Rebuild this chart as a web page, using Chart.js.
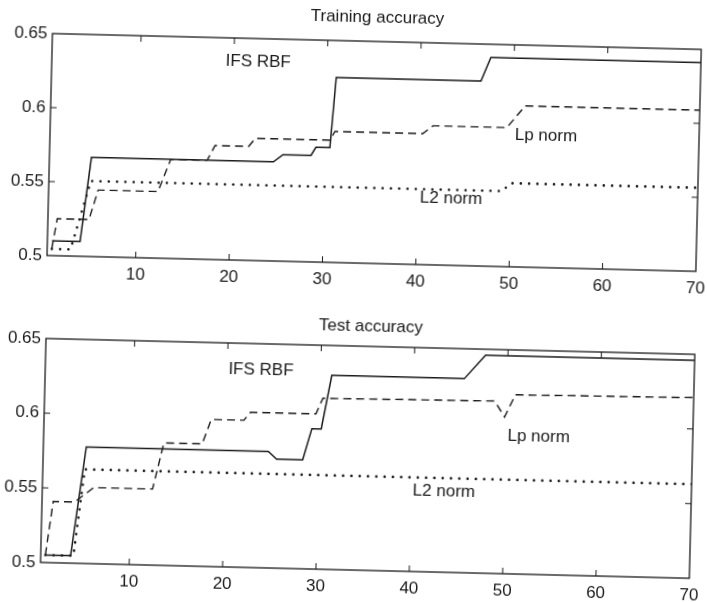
<!DOCTYPE html>
<html>
<head>
<meta charset="utf-8">
<script src="https://cdn.jsdelivr.net/npm/chart.js@4.4.1/dist/chart.umd.min.js"></script>
<style>
  html, body { margin: 0; padding: 0; background: #fff; }
  /* the scanned page sits a little crooked, so the sheet is turned to match */
  #sheet { position: relative; width: 707px; height: 602px; transform: rotate(1.4deg); transform-origin: 50% 50%; }
  #sheet canvas { position: absolute; left: 0; }
  #trainChart { top: 0; }
  #testChart { top: 300px; }
</style>
</head>
<body>
<div id="sheet">
  <canvas id="trainChart" width="707" height="300"></canvas>
  <canvas id="testChart" width="707" height="302"></canvas>
</div>
<script>
const xTicks = [10, 20, 30, 40, 50, 60, 70];
const yTicks = [0.5, 0.55, 0.6, 0.65];

// Training accuracy
const trainIfsX = [1, 4, 5, 24.5, 25.5, 28.5, 29, 30.5, 31, 46.5, 47.5, 70];
const trainIfsY = [0.510, 0.510, 0.567, 0.567, 0.572, 0.572, 0.5775, 0.5775, 0.625, 0.625, 0.641, 0.641];
const trainLpX = [1, 1.5, 4.9, 5.8, 12.2, 13.5, 17.4, 18.2, 21.8, 22.5, 30.5, 31, 40.4, 41.5, 49.4, 51.3, 70];
const trainLpY = [0.505, 0.525, 0.525, 0.545, 0.545, 0.567, 0.567, 0.577, 0.577, 0.5826, 0.5826, 0.5885, 0.5885, 0.594, 0.594, 0.609, 0.609];
const trainL2X = [1, 3, 5, 49, 50, 70];
const trainL2Y = [0.5045, 0.5045, 0.551, 0.551, 0.5565, 0.5565];

// Test accuracy
const testIfsX = [1, 3.7, 5.1, 24.6, 25.5, 28.3, 29.2, 30.2, 31.2, 45.4, 47.6, 70];
const testIfsY = [0.505, 0.505, 0.578, 0.578, 0.573, 0.573, 0.594, 0.594, 0.63, 0.63, 0.646, 0.646];
const testLpX = [1, 1.7, 4, 6, 12.3, 13.4, 17.5, 18.4, 21.9, 22.6, 29.6, 30.3, 48.7, 49.8, 50.9, 70];
const testLpY = [0.505, 0.541, 0.541, 0.551, 0.551, 0.582, 0.582, 0.5985, 0.5985, 0.604, 0.604, 0.6145, 0.6155, 0.605, 0.62, 0.621];
const testL2X = [1, 4, 5, 70];
const testL2Y = [0.505, 0.505, 0.563, 0.563];

// curve labels, placed in data units
const trainNotes = [
    { text: 'IFS RBF', x: 22.6, y: 0.634 },
    { text: 'Lp norm', x: 53.6, y: 0.589 },
    { text: 'L2 norm', x: 43.6, y: 0.545 }
];
const testNotes = [
    { text: 'IFS RBF', x: 23.6, y: 0.6326 },
    { text: 'Lp norm', x: 53.5, y: 0.5925 },
    { text: 'L2 norm', x: 43.5, y: 0.554 }
];

const ink = '#1a1a1a';
const fontFamily = '"Liberation Sans", Arial, Helvetica, sans-serif';

Chart.defaults.font.family = fontFamily;
Chart.defaults.font.size = 17;
Chart.defaults.color = ink;

const pts = (xs, ys) => xs.map((x, i) => ({ x: x, y: ys[i] }));

// box round the axes, inward ticks on all four sides, curve labels
const framePlugin = {
    id: 'frame',
    afterDraw(chart, args, opts) {
        const { ctx, chartArea: a } = chart;
        const x = chart.scales.x, y = chart.scales.y;
        ctx.save();
        ctx.strokeStyle = ink;
        ctx.lineWidth = 1.3;
        ctx.strokeRect(a.left, a.top, a.width, a.height);

        ctx.lineWidth = 1;
        ctx.beginPath();
        xTicks.forEach(v => {
            if (v <= x.min || v >= x.max) return;
            const px = x.getPixelForValue(v);
            ctx.moveTo(px, a.bottom); ctx.lineTo(px, a.bottom - 6);
            ctx.moveTo(px, a.top); ctx.lineTo(px, a.top + 6);
        });
        yTicks.forEach(v => {
            if (v <= y.min || v >= y.max) return;
            const py = y.getPixelForValue(v);
            ctx.moveTo(a.left, py); ctx.lineTo(a.left + 6, py);
            ctx.moveTo(a.right, py); ctx.lineTo(a.right - 6, py);
        });
        ctx.stroke();

        ctx.fillStyle = ink;
        ctx.font = '17px ' + fontFamily;
        ctx.textAlign = 'center';
        ctx.textBaseline = 'middle';
        (opts.notes || []).forEach(n => {
            ctx.fillText(n.text, x.getPixelForValue(n.x), y.getPixelForValue(n.y));
        });
        ctx.restore();
    }
};

function makeChart(id, title, ifs, lp, l2, notes, box) {
    return new Chart(document.getElementById(id), {
        type: 'line',
        data: {
            datasets: [
                { label: 'IFS RBF', data: ifs, borderColor: ink, borderWidth: 1.5 },
                { label: 'Lp norm', data: lp, borderColor: ink, borderWidth: 1.4, borderDash: [8, 5] },
                { label: 'L2 norm', data: l2, borderColor: ink, borderWidth: 2.6, borderDash: [0, 8.3], borderCapStyle: 'round' }
            ]
        },
        options: {
            responsive: false,
            animation: false,
            parsing: false,
            elements: { point: { radius: 0 }, line: { tension: 0, fill: false } },
            layout: { padding: { left: 0, right: box.right, top: 0, bottom: 0 } },
            plugins: {
                legend: { display: false },
                tooltip: { enabled: false },
                title: {
                    display: true,
                    fullSize: false,
                    text: title,
                    color: ink,
                    font: { size: 17, weight: 'normal' },
                    padding: box.titlePad
                },
                frame: { notes: notes }
            },
            scales: {
                x: {
                    type: 'linear',
                    min: 0.5,
                    max: 70,
                    grid: { display: false, drawTicks: false },
                    border: { display: false },
                    ticks: { padding: box.xPad, callback: v => String(v) },
                    afterBuildTicks: s => { s.ticks = xTicks.map(v => ({ value: v })); },
                    afterFit: s => { s.height = box.xHeight; s.paddingLeft = 0; s.paddingRight = 0; }
                },
                y: {
                    min: 0.5,
                    max: 0.65,
                    grid: { display: false, drawTicks: false },
                    border: { display: false },
                    ticks: { padding: 5, callback: v => String(v) },
                    afterBuildTicks: s => { s.ticks = yTicks.map(v => ({ value: v })); },
                    afterFit: s => { s.width = box.yWidth; s.paddingTop = 0; s.paddingBottom = 0; }
                }
            }
        },
        plugins: [framePlugin]
    });
}

makeChart('trainChart', 'Training accuracy',
    pts(trainIfsX, trainIfsY), pts(trainLpX, trainLpY), pts(trainL2X, trainL2Y), trainNotes,
    { right: 12, yWidth: 46, xHeight: 37, xPad: 7, titlePad: { top: 7.6, bottom: 13 } });

makeChart('testChart', 'Test accuracy',
    pts(testIfsX, testIfsY), pts(testLpX, testLpY), pts(testL2X, testL2Y), testNotes,
    { right: 11, yWidth: 47, xHeight: 32, xPad: 7, titlePad: { top: 16.3, bottom: 9.3 } });
</script>
</body>
</html>
